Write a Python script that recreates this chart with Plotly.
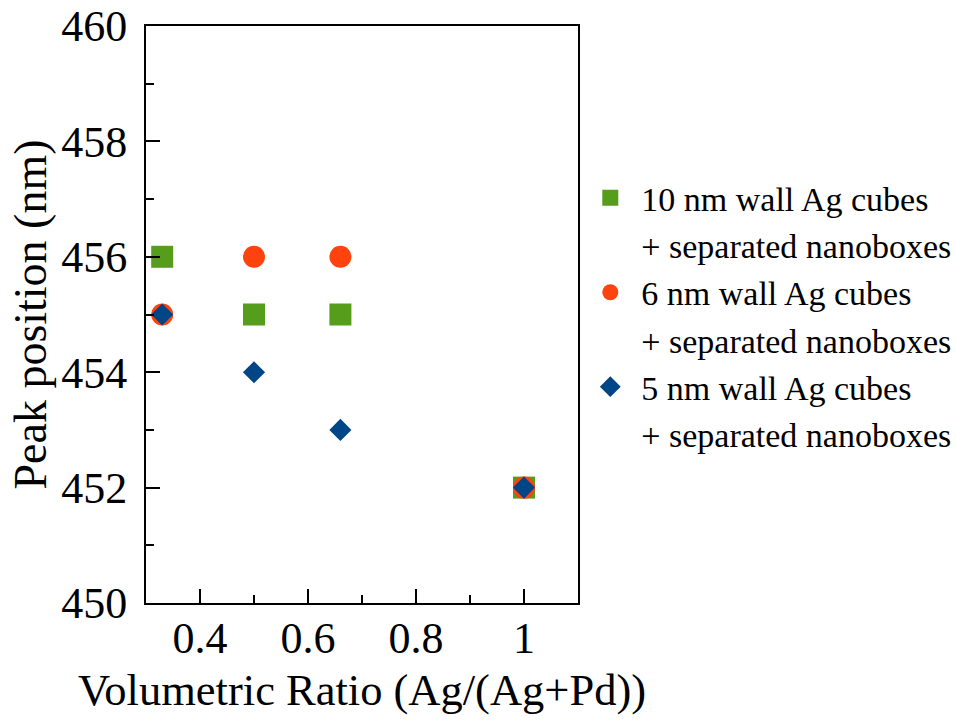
import plotly.graph_objects as go

ratio = [0.33, 0.5, 0.66, 1.0]
peak_10nm = [456, 455, 455, 452]
peak_6nm = [455, 456, 456, 452]
peak_5nm = [455, 454, 453, 452]

series = [
    ("10 nm wall Ag cubes", peak_10nm, "square", "#579d1c", 22),
    ("6 nm wall Ag cubes", peak_6nm, "circle", "#ff420e", 22),
    ("5 nm wall Ag cubes", peak_5nm, "diamond", "#004586", 17),
]
second_line = "+ separated nanoboxes"

FONT = "Liberation Serif, Times New Roman, serif"

fig = go.Figure()
for name, ys, sym, col, sz in series:
    fig.add_trace(go.Scatter(
        x=ratio, y=ys, mode="markers", name=name,
        marker=dict(symbol=sym, color=col, size=sz, line=dict(width=0)),
        cliponaxis=False,
    ))
    fig.add_trace(go.Scatter(
        x=[None], y=[None], mode="markers", name=second_line,
        marker=dict(color="rgba(0,0,0,0)", size=1), hoverinfo="skip",
    ))

axis_common = dict(
    showline=True, linecolor="black", linewidth=2, mirror=True,
    ticks="inside", ticklen=14, tickwidth=2, tickcolor="black",
    showgrid=False, zeroline=False,
    tickfont=dict(family=FONT, size=44, color="black"),
)

fig.update_xaxes(
    range=[0.3, 1.1], tick0=0, dtick=0.2,
    minor=dict(ticks="inside", ticklen=8, tickwidth=2, tickcolor="black", dtick=0.1, tick0=0, showgrid=False),
    title=dict(text="Volumetric Ratio (Ag/(Ag+Pd))", font=dict(family=FONT, size=44.5, color="black"), standoff=12),
    ticklabelstandoff=-5,
    **axis_common,
)
fig.update_yaxes(
    range=[450, 460], tick0=450, dtick=2,
    minor=dict(ticks="inside", ticklen=8, tickwidth=2, tickcolor="black", dtick=1, tick0=450, showgrid=False),
    title=dict(text="Peak position (nm)", font=dict(family=FONT, size=46, color="black"), standoff=0),
    ticklabelstandoff=8,
    **axis_common,
)

fig.update_layout(
    width=956, height=721,
    margin=dict(l=146, r=378, t=26, b=118, autoexpand=False),
    paper_bgcolor="white", plot_bgcolor="white",
    showlegend=True,
    legend=dict(
        x=1.003, xanchor="left", y=0.497, yanchor="middle",
        font=dict(family=FONT, size=34, color="black"),
        bgcolor="rgba(0,0,0,0)", itemsizing="trace", traceorder="normal",
        itemclick=False, itemwidth=52,
    ),
)

fig.write_html("out.html")
